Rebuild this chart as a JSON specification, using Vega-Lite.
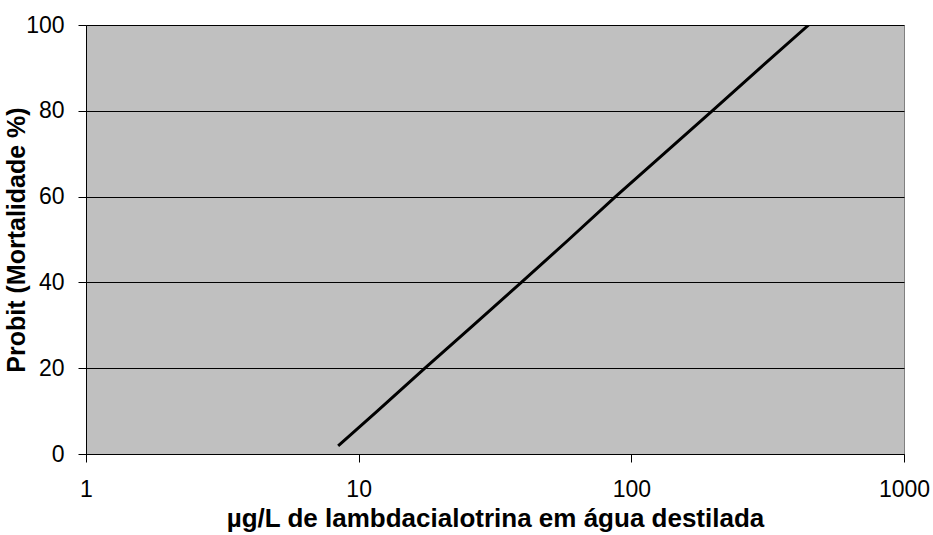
{
  "$schema": "https://vega.github.io/schema/vega-lite/v6.json",
  "autosize": {"type": "none"},
  "padding": {"left": 86, "top": 25, "right": 29, "bottom": 81},
  "width": 818,
  "height": 429,
  "background": "white",
  "config": {
    "view": {"fill": "#C0C0C0", "stroke": "#808080", "strokeWidth": 1},
    "font": "Liberation Sans"
  },
  "data": {
    "values": [
      {"conc": 8.41, "probit": 1.9},
      {"conc": 11.7, "probit": 10},
      {"conc": 17.5, "probit": 20},
      {"conc": 26.3, "probit": 30},
      {"conc": 39.5, "probit": 40},
      {"conc": 59, "probit": 50},
      {"conc": 87.5, "probit": 60},
      {"conc": 131.8, "probit": 70},
      {"conc": 198, "probit": 80},
      {"conc": 297, "probit": 90},
      {"conc": 447, "probit": 100}
    ]
  },
  "mark": {"type": "line", "color": "black", "strokeWidth": 3, "clip": true},
  "encoding": {
    "x": {
      "field": "conc",
      "type": "quantitative",
      "scale": {"type": "log", "domain": [1, 1000], "nice": false},
      "axis": {
        "values": [1, 10, 100, 1000],
        "format": "d",
        "grid": false,
        "domainColor": "black",
        "tickColor": "black",
        "tickSize": 8,
        "labelFontSize": 23,
        "labelColor": "black",
        "labelPadding": 16,
        "labelFont": "Liberation Sans",
        "labelOverlap": false,
        "labelBound": false,
        "labelFlush": false,
        "title": "µg/L de lambdacialotrina em água destilada",
        "titleFontSize": 26,
        "titleFontWeight": "bold",
        "titleColor": "black",
        "titlePadding": 4,
        "titleFont": "Liberation Sans"
      }
    },
    "y": {
      "field": "probit",
      "type": "quantitative",
      "scale": {"domain": [0, 100], "nice": false},
      "axis": {
        "values": [0, 20, 40, 60, 80, 100],
        "grid": true,
        "gridColor": "black",
        "gridWidth": 1,
        "domainColor": "black",
        "tickColor": "black",
        "tickSize": 8,
        "labelFontSize": 23,
        "labelColor": "black",
        "labelPadding": 14,
        "labelFlush": false,
        "labelOverlap": false,
        "title": "Probit (Mortalidade %)",
        "titleFontSize": 25,
        "titleFontWeight": "bold",
        "titleColor": "black",
        "titlePadding": -4
      }
    }
  }
}
